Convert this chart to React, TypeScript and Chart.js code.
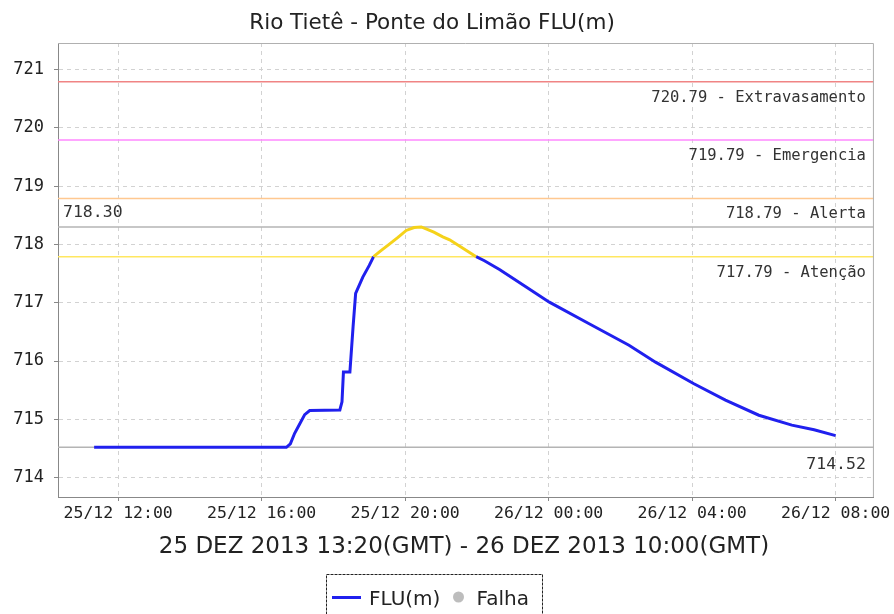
import { useEffect, useRef } from 'react';
import { Chart, registerables } from 'chart.js';

Chart.register(...registerables);

// hours since 25/12 00:00 (local time)
const times = [
  11.33, 14.0, 16.69, 16.8, 16.92, 17.06, 17.2, 17.34, 18.18, 18.24, 18.28, 18.46, 18.55, 18.62,
  18.82, 19.0, 19.12, 19.3, 19.57, 19.8, 20.03, 20.25, 20.45, 20.65, 20.8, 21.05, 21.24, 21.6,
  21.98, 22.21, 22.63, 23.3, 24.02, 25.13, 26.24, 26.98, 28.05, 28.93, 29.86, 30.78, 31.4, 32.0,
];
const levels = [
  714.52, 714.52, 714.52, 714.58, 714.76, 714.92, 715.08, 715.15, 715.16, 715.3, 715.81, 715.81, 716.6, 717.16,
  717.44, 717.64, 717.79, 717.88, 718.01, 718.12, 718.24, 718.29, 718.3, 718.25, 718.21, 718.13, 718.08, 717.94,
  717.79, 717.72, 717.57, 717.3, 717.01, 716.64, 716.27, 715.98, 715.61, 715.33, 715.07, 714.9, 714.82, 714.72,
];
const xTickValues = [12, 16, 20, 24, 28, 32];
const yTickValues = [714, 715, 716, 717, 718, 719, 720, 721];
const thresholdValues = [720.79, 719.79, 718.79, 717.79];
const thresholdNames = ['Extravasamento', 'Emergencia', 'Alerta', 'Atenção'];
const thresholdColors = ['#f08484', '#ff88ff', '#ffc890', '#ffe760'];
const maxLevel = 718.3;
const minLevel = 714.52;
const titleText = 'Rio Tietê - Ponte do Limão FLU(m)';
const axisTitleText = '25 DEZ 2013 13:20(GMT) - 26 DEZ 2013 10:00(GMT)';
const seriesName = 'FLU(m)';
const failName = 'Falha';

const BLUE = '#2020ee';
const YELLOW = '#f5d21a';
const ATTN = thresholdValues[3];

function fmtTime(h: number) {
  const day = 25 + Math.floor(h / 24);
  const hh = Math.round(h % 24);
  return `${day}/12 ${String(hh).padStart(2, '0')}:00`;
}

const overlay = {
  id: 'overlay',
  beforeDatasetsDraw(chart: any) {
    const { ctx, chartArea: a, scales } = chart;
    const y = scales.y;
    ctx.save();
    ctx.beginPath();
    ctx.rect(a.left, a.top, a.right - a.left, a.bottom - a.top);
    ctx.clip();
    const hline = (v: number, color: string, w: number) => {
      const py = y.getPixelForValue(v);
      ctx.strokeStyle = color;
      ctx.lineWidth = w;
      ctx.beginPath();
      ctx.moveTo(a.left, py);
      ctx.lineTo(a.right, py);
      ctx.stroke();
    };
    [maxLevel, minLevel].forEach((v) => hline(v, '#b4b4b4', 1.6));
    thresholdValues.forEach((v, i) => hline(v, thresholdColors[i], 1.5));
    ctx.restore();
  },
  afterDraw(chart: any) {
    const { ctx, chartArea: a, scales } = chart;
    const y = scales.y;
    ctx.save();
    // frame top/right
    ctx.strokeStyle = '#b0b0b0';
    ctx.lineWidth = 1;
    ctx.beginPath();
    ctx.moveTo(a.left, a.top + 0.5);
    ctx.lineTo(a.right - 0.5, a.top + 0.5);
    ctx.lineTo(a.right - 0.5, a.bottom);
    ctx.stroke();

    // annotation labels
    ctx.fillStyle = '#333';
    ctx.textBaseline = 'middle';
    ctx.font = '15.5px "DejaVu Sans Mono"';
    ctx.textAlign = 'right';
    thresholdValues.forEach((v, i) => {
      const py = y.getPixelForValue(v);
      ctx.fillText(`${v.toFixed(2)} - ${thresholdNames[i]}`, a.right - 8, py + 16);
    });
    ctx.font = '16.5px "DejaVu Sans Mono"';
    ctx.textAlign = 'left';
    ctx.fillText(maxLevel.toFixed(2), a.left + 5, y.getPixelForValue(maxLevel) - 14);
    ctx.textAlign = 'right';
    ctx.fillText(minLevel.toFixed(2), a.right - 8, y.getPixelForValue(minLevel) + 17);

    // title
    ctx.fillStyle = '#222';
    ctx.textBaseline = 'alphabetic';
    ctx.textAlign = 'center';
    ctx.font = '21.5px "DejaVu Sans"';
    ctx.fillText(titleText, 432, 28.5);

    // axis title
    ctx.font = '23px "DejaVu Sans"';
    ctx.fillText(axisTitleText, (a.left + a.right) / 2 - 2, 553);

    // legend
    ctx.setLineDash([3, 1]);
    ctx.strokeStyle = '#222';
    ctx.lineWidth = 1;
    ctx.strokeRect(326.5, 574.5, 216, 60);
    ctx.setLineDash([]);
    ctx.strokeStyle = BLUE;
    ctx.lineWidth = 3;
    ctx.beginPath();
    ctx.moveTo(332, 597.5);
    ctx.lineTo(361, 597.5);
    ctx.stroke();
    ctx.fillStyle = '#222';
    ctx.textAlign = 'left';
    ctx.font = '20px "DejaVu Sans"';
    ctx.fillText(seriesName, 369, 605);
    ctx.fillStyle = '#bdbdbd';
    ctx.beginPath();
    ctx.arc(458.5, 597, 5.5, 0, Math.PI * 2);
    ctx.fill();
    ctx.fillStyle = '#222';
    ctx.fillText(failName, 476.5, 605);
    ctx.restore();
  },
};

export default function App() {
  const ref = useRef<HTMLCanvasElement>(null);
  useEffect(() => {
    if (!ref.current) return;
    const chart = new Chart(ref.current, {
      type: 'line',
      data: {
        datasets: [
          {
            label: seriesName,
            data: times.map((t, i) => ({ x: t, y: levels[i] })),
            borderColor: BLUE,
            borderWidth: 3,
            pointRadius: 0,
            tension: 0,
            fill: false,
            segment: {
              borderColor: (c: any) =>
                c.p0.parsed.y >= ATTN - 1e-6 && c.p1.parsed.y >= ATTN - 1e-6 ? YELLOW : BLUE,
            },
          },
          {
            label: failName,
            data: [],
            borderColor: '#bdbdbd',
            backgroundColor: '#bdbdbd',
            pointRadius: 5,
          },
        ],
      },
      plugins: [overlay],
      options: {
        animation: false,
        responsive: false,
        devicePixelRatio: 1,
        layout: { padding: { top: 43, right: 16, left: 0, bottom: 0 } },
        plugins: {
          legend: { display: false },
          title: { display: false },
          tooltip: { enabled: false },
        },
        scales: {
          x: {
            type: 'linear',
            min: 10.323,
            max: 33.068,
            afterBuildTicks: (s: any) => {
              s.ticks = xTickValues.map((v) => ({ value: v }));
            },
            afterFit: (s: any) => {
              s.height = 117;
            },
            ticks: {
              autoSkip: false,
              maxRotation: 0,
              padding: 3,
              color: '#222',
              font: { family: 'DejaVu Sans Mono', size: 16.5 },
              callback: (v: any) => fmtTime(Number(v)),
            },
            grid: { color: '#d2d2d2', tickColor: '#888', tickLength: 4, tickBorderDash: [] },
            border: { color: '#888', width: 1, dash: [4, 4] },
          },
          y: {
            type: 'linear',
            min: 713.667,
            max: 721.456,
            afterBuildTicks: (s: any) => {
              s.ticks = yTickValues.map((v) => ({ value: v }));
            },
            afterFit: (s: any) => {
              s.width = 58;
            },
            ticks: {
              padding: 10,
              color: '#222',
              font: { family: 'DejaVu Sans Mono', size: 17 },
              callback: (v: any) => String(v),
            },
            grid: { color: '#d2d2d2', tickColor: '#888', tickLength: 4, tickBorderDash: [] },
            border: { color: '#888', width: 1, dash: [4, 4] },
          },
        },
      },
    } as any);
    return () => chart.destroy();
  }, []);
  return (
    <div style={{ position: 'fixed', left: 0, top: 0, width: 894, height: 614, background: '#fff' }}>
      <canvas ref={ref} width={894} height={614} style={{ display: 'block', width: 894, height: 614 }} />
    </div>
  );
}
